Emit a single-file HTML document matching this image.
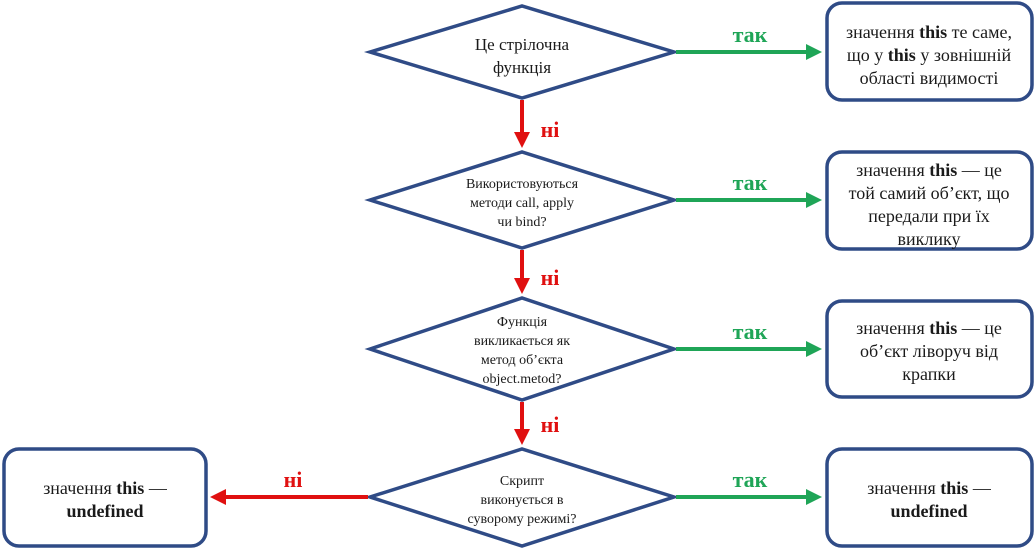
<!DOCTYPE html>
<html><head><meta charset="utf-8"><style>
body{margin:0;background:#fff}
svg text{font-family:"Liberation Serif",serif;fill:#1a1a1a}
.g{fill:#1fa557;font-weight:bold;font-size:22px}
.r{fill:#e01010;font-weight:bold;font-size:22px}
</style></head><body>
<svg width="1034" height="551" viewBox="0 0 1034 551">
<defs>
<marker id="ag" markerWidth="4" markerHeight="4" refX="3" refY="2" orient="auto"><path d="M0,0L4,2L0,4Z" fill="#1fa557"/></marker>
<marker id="ar" markerWidth="4" markerHeight="4" refX="3" refY="2" orient="auto"><path d="M0,0L4,2L0,4Z" fill="#e01010"/></marker>
</defs>
<g fill="#fff" stroke="#2f4b86" stroke-width="3.5">
<polygon points="370,52 522,6 674,52 522,98"/>
<polygon points="370,200 522,152 674,200 522,248"/>
<polygon points="370,349 522,298 674,349 522,400"/>
<polygon points="370,497 522,449 674,497 522,546"/>
<rect x="827" y="3" width="205" height="97" rx="15"/>
<rect x="827" y="152" width="205" height="97" rx="15"/>
<rect x="827" y="301" width="205" height="96" rx="15"/>
<rect x="827" y="449" width="205" height="97" rx="15"/>
<rect x="4" y="449" width="202" height="97" rx="15"/>
</g>
<g stroke="#1fa557" stroke-width="4">
<line x1="676" y1="52" x2="818" y2="52" marker-end="url(#ag)"/>
<line x1="676" y1="200" x2="818" y2="200" marker-end="url(#ag)"/>
<line x1="676" y1="349" x2="818" y2="349" marker-end="url(#ag)"/>
<line x1="676" y1="497" x2="818" y2="497" marker-end="url(#ag)"/>
</g>
<g stroke="#e01010" stroke-width="4">
<line x1="522" y1="100" x2="522" y2="144" marker-end="url(#ar)"/>
<line x1="522" y1="250" x2="522" y2="290" marker-end="url(#ar)"/>
<line x1="522" y1="402" x2="522" y2="441" marker-end="url(#ar)"/>
<line x1="368" y1="497" x2="214" y2="497" marker-end="url(#ar)"/>
</g>
<text class="g" x="750" y="42" text-anchor="middle">так</text>
<text class="g" x="750" y="190" text-anchor="middle">так</text>
<text class="g" x="750" y="339" text-anchor="middle">так</text>
<text class="g" x="750" y="487" text-anchor="middle">так</text>
<text class="r" x="550" y="137" text-anchor="middle">ні</text>
<text class="r" x="550" y="285" text-anchor="middle">ні</text>
<text class="r" x="550" y="432" text-anchor="middle">ні</text>
<text class="r" x="293" y="487" text-anchor="middle">ні</text>
<g text-anchor="middle" font-size="17">
<text x="522" y="50">Це стрілочна</text><text x="522" y="73">функція</text>
</g>
<g text-anchor="middle" font-size="14">
<text x="522" y="188">Використовуються</text><text x="522" y="207">методи call,  apply</text><text x="522" y="226">чи bind?</text>
<text x="522" y="326">Функція</text><text x="522" y="345">викликається як</text><text x="522" y="364">метод об’єкта</text><text x="522" y="383">object.metod?</text>
<text x="522" y="485">Скрипт</text><text x="522" y="504">виконується в</text><text x="522" y="523">суворому режимі?</text>
</g>
<g text-anchor="middle" font-size="18">
<text x="929" y="38">значення <tspan font-weight="bold">this</tspan> те саме,</text>
<text x="929" y="61">що у <tspan font-weight="bold">this</tspan> у зовнішній</text>
<text x="929" y="84">області видимості</text>
<text x="929" y="176">значення <tspan font-weight="bold">this</tspan> — це</text>
<text x="929" y="199">той самий об’єкт, що</text>
<text x="929" y="222">передали при їх</text>
<text x="929" y="245">виклику</text>
<text x="929" y="334">значення <tspan font-weight="bold">this</tspan> — це</text>
<text x="929" y="357">об’єкт ліворуч від</text>
<text x="929" y="380">крапки</text>
<text x="929" y="494">значення <tspan font-weight="bold">this</tspan> —</text>
<text x="929" y="517" font-weight="bold">undefined</text>
<text x="105" y="494">значення <tspan font-weight="bold">this</tspan> —</text>
<text x="105" y="517" font-weight="bold">undefined</text>
</g>
</svg>
</body></html>
